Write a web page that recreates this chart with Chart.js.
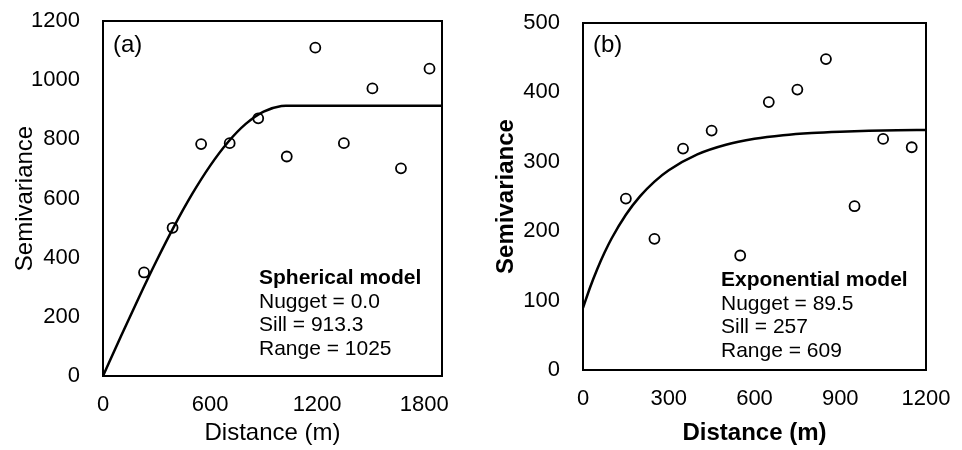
<!DOCTYPE html>
<html>
<head>
<meta charset="utf-8">
<script src="https://cdn.jsdelivr.net/npm/chart.js@4.4.1/dist/chart.umd.min.js"></script>
<style>
    html, body { margin: 0; padding: 0; background: #fff; }
    .panel { position: absolute; top: 0; width: 481px; height: 450px; }
    #panelA { left: 0; }
    #panelB { left: 481px; }
</style>
</head>
<body>
<div class="panel" id="panelA"><canvas id="chartA"></canvas></div>
<div class="panel" id="panelB"><canvas id="chartB"></canvas></div>
<script>
// (a) spherical model - empirical semivariogram
const lagA = [230, 390, 550, 710, 870, 1030, 1190, 1350, 1510, 1670, 1830];
const gammaA = [350, 501, 784, 787, 871, 742, 1110, 787, 972, 702, 1039];
// fitted curve
const curveDistA = [0, 100, 200, 300, 400, 500, 600, 700, 800, 900, 1000, 1025, 1900];
const curveGammaA = [0, 133.2, 263.9, 389.5, 507.5, 615.3, 710.3, 790.1, 852.1, 893.8, 912.5, 913.3, 913.3];
const xTicksA = [0, 600, 1200, 1800];
const yTicksA = [0, 200, 400, 600, 800, 1000, 1200];
const noteA = ['Spherical model', 'Nugget = 0.0', 'Sill = 913.3', 'Range = 1025'];

// (b) exponential model
const lagB = [150, 250, 350, 450, 550, 650, 750, 850, 950, 1050, 1150];
const gammaB = [247, 189, 319, 345, 165, 386, 404, 448, 236, 333, 321];
const curveDistB = [0, 25, 50, 75, 100, 150, 200, 250, 300, 400, 500, 600, 700, 800, 900, 1000, 1100, 1200];
const curveGammaB = [89.5, 119.3, 145.6, 168.9, 189.5, 223.7, 250.5, 271.5, 287.9, 310.7, 324.6, 333.1, 338.3, 341.5, 343.4, 344.6, 345.4, 345.8];
const xTicksB = [0, 300, 600, 900, 1200];
const yTicksB = [0, 100, 200, 300, 400, 500];
const noteB = ['Exponential model', 'Nugget = 89.5', 'Sill = 257', 'Range = 609'];

const FONT = "'Liberation Sans', Arial, sans-serif";
Chart.defaults.font.family = FONT;
Chart.defaults.color = '#000';

function toPoints(xs, ys) {
    return xs.map(function (x, i) { return { x: x, y: ys[i] }; });
}

function fixedTicks(list) {
    return function (scale) {
        scale.ticks = list.map(function (v) { return { value: v }; });
    };
}

// box around the plot area plus panel letter and model text
const framePlugin = {
    id: 'frame',
    afterDraw: function (chart, args, opts) {
        const ctx = chart.ctx;
        const a = chart.chartArea;
        ctx.save();
        ctx.strokeStyle = '#000';
        ctx.lineWidth = 2;
        ctx.strokeRect(a.left, a.top, a.right - a.left, a.bottom - a.top);
        ctx.fillStyle = '#000';
        ctx.textBaseline = 'alphabetic';
        ctx.textAlign = 'left';
        ctx.font = '24px ' + FONT;
        ctx.fillText(opts.tag, a.left + 10, 52);
        opts.note.forEach(function (line, i) {
            ctx.font = (i === 0 ? 'bold ' : '') + '21px ' + FONT;
            ctx.fillText(line, opts.noteX, opts.noteY + i * 23.5);
        });
        ctx.restore();
    }
};

function makeChart(id, cfg) {
    return new Chart(document.getElementById(id), {
        type: 'scatter',
        data: {
            datasets: [
                {
                    type: 'line',
                    data: toPoints(cfg.curveX, cfg.curveY),
                    borderColor: '#000',
                    borderWidth: 2.5,
                    pointRadius: 0,
                    fill: false,
                    cubicInterpolationMode: 'monotone'
                },
                {
                    data: toPoints(cfg.lagX, cfg.gammaY),
                    borderColor: '#000',
                    backgroundColor: 'rgba(0,0,0,0)',
                    borderWidth: 1.8,
                    pointRadius: 5
                }
            ]
        },
        options: {
            responsive: true,
            maintainAspectRatio: false,
            animation: false,
            layout: { padding: { top: cfg.padTop, right: cfg.padRight, left: 0, bottom: 0 } },
            plugins: {
                legend: { display: false },
                tooltip: { enabled: false },
                frame: { tag: cfg.tag, note: cfg.note, noteX: cfg.noteX, noteY: cfg.noteY }
            },
            scales: {
                x: {
                    type: 'linear',
                    min: 0,
                    max: cfg.xMax,
                    grid: { display: false, drawTicks: false },
                    border: { display: false },
                    afterBuildTicks: fixedTicks(cfg.xTicks),
                    ticks: { padding: 16, font: { size: 22 }, maxRotation: 0, callback: function (v) { return String(v); } },
                    title: { display: true, text: 'Distance (m)', font: { size: 24, weight: cfg.titleWeight }, padding: { top: 0, bottom: 2 } },
                    afterFit: function (s) {
                        s.height = cfg.xHeight;
                        s.paddingLeft = 0;
                        s.paddingRight = 0;
                    }
                },
                y: {
                    min: 0,
                    max: cfg.yMax,
                    grid: { display: false, drawTicks: false },
                    border: { display: false },
                    afterBuildTicks: fixedTicks(cfg.yTicks),
                    ticks: { padding: 23, font: { size: 22 }, callback: function (v) { return String(v); } },
                    title: { display: true, text: 'Semivariance', font: { size: 24, weight: cfg.titleWeight }, padding: { top: 11, bottom: 0 } },
                    afterFit: function (s) {
                        s.width = cfg.yWidth;
                        s.paddingTop = 0;
                        s.paddingBottom = 0;
                    }
                }
            }
        },
        plugins: [framePlugin]
    });
}

makeChart('chartA', {
    lagX: lagA, gammaY: gammaA, curveX: curveDistA, curveY: curveGammaA,
    xMax: 1900, yMax: 1200, xTicks: xTicksA, yTicks: yTicksA,
    padTop: 21, padRight: 39, xHeight: 74, yWidth: 103,
    titleWeight: 'normal', tag: '(a)', note: noteA, noteX: 259, noteY: 284
});

makeChart('chartB', {
    lagX: lagB, gammaY: gammaB, curveX: curveDistB, curveY: curveGammaB,
    xMax: 1200, yMax: 500, xTicks: xTicksB, yTicks: yTicksB,
    padTop: 23, padRight: 36, xHeight: 80, yWidth: 102,
    titleWeight: 'bold', tag: '(b)', note: noteB, noteX: 240, noteY: 286
});
</script>
</body>
</html>
